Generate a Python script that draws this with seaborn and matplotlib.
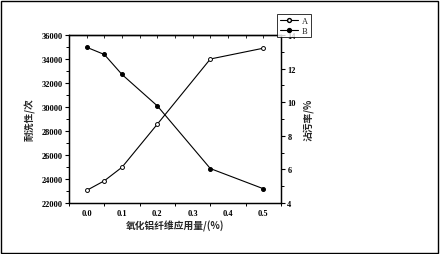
import matplotlib
matplotlib.use("Agg")
import matplotlib.pyplot as plt
import seaborn as sns
import pandas as pd
from matplotlib.ticker import MultipleLocator
from matplotlib.patches import Rectangle
from matplotlib.lines import Line2D

x_vals = [0.0, 0.05, 0.1, 0.2, 0.35, 0.5]
series_a = [23050, 23850, 24980, 28570, 34000, 34900]
series_b = [13.27, 12.84, 11.65, 9.78, 6.05, 4.85]
x_ticks = [0.0, 0.1, 0.2, 0.3, 0.4, 0.5]
left_ticks = [22000, 24000, 26000, 28000, 30000, 32000, 34000, 36000]
right_ticks = [4, 6, 8, 10, 12, 14]
legend_labels = ["A", "B"]
x_label = "氧化铝纤维应用量/(%)"
left_label = "耐洗性/次"
right_label = "沾污率/%"

sns.set_style("white")
plt.rcParams['font.family'] = ['Liberation Serif', 'Noto Sans CJK SC', 'DejaVu Sans']

df = pd.DataFrame({"x": x_vals, "A": series_a, "B": series_b})

fig = plt.figure(figsize=(4.4, 2.55), dpi=100)
ax = fig.add_axes([69/440, 1-204/255, (281-69)/440, (204-36)/255])
ax2 = ax.twinx()

ms = 2.8
sns.lineplot(data=df, x="x", y="A", ax=ax, color="black", lw=0.8, marker="o",
             markersize=ms, markerfacecolor="white", markeredgecolor="black",
             markeredgewidth=0.7)
sns.lineplot(data=df, x="x", y="B", ax=ax2, color="black", lw=0.8, marker="o",
             markersize=ms, markerfacecolor="black", markeredgecolor="black")

ax.set_xlim(-0.05, 0.55)
ax.set_ylim(22000, 36000)
ax2.set_ylim(4, 14)
ax.set_xticks(x_ticks)
ax.set_xticklabels([f"{v:.1f}" for v in x_ticks])
ax.set_yticks(left_ticks)
ax.set_yticklabels([str(v) for v in left_ticks])
ax2.set_yticks(right_ticks)
ax2.set_yticklabels([str(v) for v in right_ticks])
ax.xaxis.set_minor_locator(MultipleLocator(0.05))
ax.yaxis.set_minor_locator(MultipleLocator(1000))
ax2.yaxis.set_minor_locator(MultipleLocator(1))

for a in (ax, ax2):
    for s in a.spines.values():
        s.set_color("black")
        s.set_linewidth(0.9)
ax.tick_params(which="both", direction="out", colors="black", labelsize=6, pad=1.5)
ax.tick_params(which="major", length=3, width=0.8)
ax.tick_params(which="minor", length=2, width=0.7, left=True, bottom=True)
ax2.tick_params(which="both", direction="out", colors="black", labelsize=6, pad=1.5)
ax2.tick_params(which="major", length=3, width=0.8)
ax2.tick_params(which="minor", length=2, width=0.7, right=True)
for lab in ax.get_xticklabels() + ax.get_yticklabels() + ax2.get_yticklabels():
    lab.set_fontweight("bold")

sec = ax.secondary_xaxis("top")
sec.set_xticks(x_ticks)
sec.xaxis.set_minor_locator(MultipleLocator(0.05))
sec.tick_params(which="both", direction="in", labeltop=False, length=2.5, width=0.7)
sec.spines["top"].set_linewidth(0.9)

cjk = ['Noto Sans CJK SC', 'DejaVu Sans']
ax.set_xlabel(x_label, fontsize=7, fontweight="black", labelpad=2, family=cjk)
ax.set_ylabel(left_label, fontsize=7, fontweight="black", labelpad=4, family=cjk)
ax2.set_ylabel(right_label, fontsize=7, fontweight="black", labelpad=5, rotation=90,
               family=cjk)

handles = [
    Line2D([], [], color="black", lw=0.8, marker="o", markersize=ms,
           markerfacecolor="white", markeredgecolor="black"),
    Line2D([], [], color="black", lw=0.8, marker="o", markersize=ms,
           markerfacecolor="black", markeredgecolor="black"),
]
leg = fig.legend(handles, legend_labels, loc="lower left",
                 bbox_to_anchor=(277/440, 1-38/255), fontsize=6, frameon=True,
                 fancybox=False, edgecolor="black", handlelength=2.2,
                 borderpad=0.3, labelspacing=0.2, handletextpad=0.5, borderaxespad=0)
leg.get_frame().set_linewidth(0.7)

fig.patches.append(Rectangle((0.002, 0.004), 0.994, 0.99, transform=fig.transFigure,
                             fill=False, edgecolor="black", lw=1))

fig.savefig("out.png", dpi=100)
